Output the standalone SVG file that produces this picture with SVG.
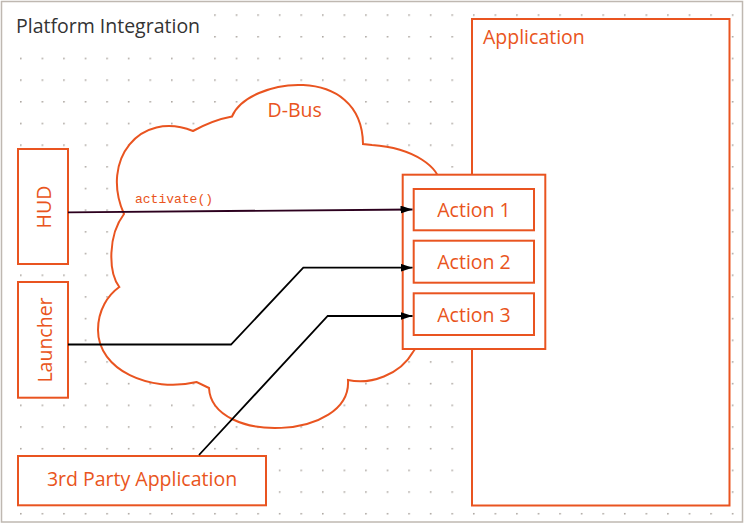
<svg xmlns="http://www.w3.org/2000/svg" width="744" height="524" viewBox="0 0 744 524">
  <style>
    .box { fill: #ffffff; stroke: #e95420; stroke-width: 2; }
    .lbl { font-family: "Open Sans", "Noto Sans", sans-serif; font-size: 19.5px; fill: #e95420; }
    .title { font-family: "Open Sans", "Noto Sans", sans-serif; font-size: 19.5px; fill: #333333; }
    .code { font-family: "Liberation Mono", "DejaVu Sans Mono", monospace; font-size: 13px; fill: #e95420; }
    .conn { fill: none; stroke: #000000; stroke-width: 1.8; }
  </style>
  <defs>
    <pattern id="dots" x="20" y="14.3" width="21.57" height="21.68" patternUnits="userSpaceOnUse">
      <circle cx="0.8" cy="0.8" r="0.9" fill="#aaa49e"/>
    </pattern>
    <marker id="arrow" viewBox="0 0 12 8" refX="12" refY="4" markerWidth="12" markerHeight="8" markerUnits="userSpaceOnUse" orient="auto">
      <path d="M0,0 L12,4 L0,8 Z" fill="#000000"/>
    </marker>
  </defs>

  <rect x="0" y="0" width="744" height="524" fill="#ffffff"/>
  <rect x="19" y="13.5" width="718" height="505" fill="url(#dots)"/>
  <rect x="1.5" y="1.5" width="741" height="520.5" fill="none" stroke="#bfb8b1" stroke-width="1.5"/>

  <g id="platform-integration">
    <rect x="4" y="4" width="204" height="46" fill="#ffffff"/>
    <text class="title" x="16" y="33.3">Platform Integration</text>
  </g>

  <g id="dbus">
    <path class="box" d="M193,131 Q213,120 232,116.5 C248,78 362,62 363,144 L372,145 C415,148 440,168 440,185 C450,260 430,330 413,352 C400,375 370,385 348,380 C352,440 212,445 209,388 L196.7,382 C150,393 98,370 98,330 C98,310 108,295 119.3,287 C108,272 108,235 124,214 C100,160 140,110 193,131 Z"/>
    <text class="lbl" x="267.5" y="117.3">D-Bus</text>
  </g>

  <g id="application">
    <rect class="box" x="472" y="19" width="257.5" height="486.5" stroke-width="2.4"/>
    <text class="lbl" x="483" y="44.3">Application</text>
  </g>

  <g id="actions">
    <rect class="box" x="402.7" y="174.7" width="142.6" height="174.3"/>
  </g>
  <g id="action1">
    <rect class="box" x="413.7" y="189" width="120.3" height="41.3"/>
    <text class="lbl" x="474" y="216.7" text-anchor="middle">Action 1</text>
  </g>
  <g id="action2">
    <rect class="box" x="413.7" y="240.7" width="120.3" height="42"/>
    <text class="lbl" x="474" y="269.3" text-anchor="middle">Action 2</text>
  </g>
  <g id="action3">
    <rect class="box" x="413.7" y="293.3" width="120.3" height="41.7"/>
    <text class="lbl" x="474" y="321.7" text-anchor="middle">Action 3</text>
  </g>

  <g id="hud">
    <rect class="box" x="18" y="149" width="50" height="115"/>
    <text class="lbl" transform="translate(50.5,207) rotate(-90)" text-anchor="middle">HUD</text>
  </g>
  <g id="launcher">
    <rect class="box" x="18" y="282" width="50" height="115.7"/>
    <text class="lbl" transform="translate(52,340) rotate(-90)" text-anchor="middle">Launcher</text>
  </g>
  <g id="third-party">
    <rect class="box" x="18" y="456" width="248" height="49.3"/>
    <text class="lbl" x="142" y="486" text-anchor="middle">3rd Party Application</text>
  </g>

  <g id="connectors">
    <path class="conn" d="M68,212.3 L412.5,209.5" stroke="#2c001e" style="stroke:#2c001e" marker-end="url(#arrow)"/>
    <text class="code" x="135" y="202.7">activate()</text>
    <path class="conn" d="M68,344.5 L231,344.5 L303.3,267.7 L412.5,267.7" marker-end="url(#arrow)"/>
    <path class="conn" d="M199,455 L327.7,316 L412.5,316" marker-end="url(#arrow)"/>
  </g>
</svg>
